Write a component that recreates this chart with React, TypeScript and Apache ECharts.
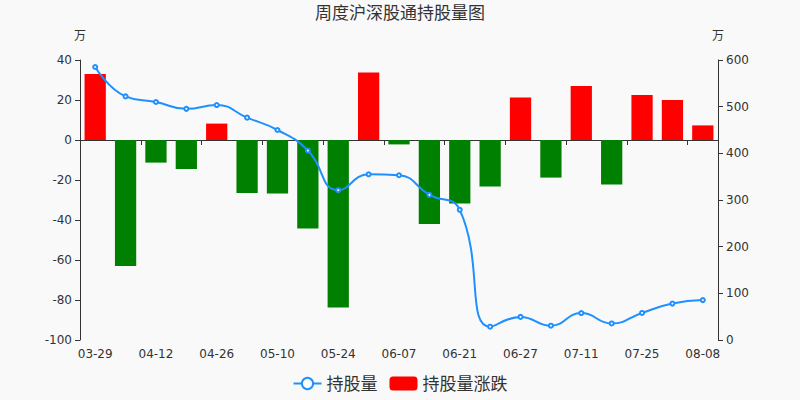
import React, { useEffect, useRef } from "react";
import * as echarts from "echarts";

// weekly dates (every other one shown on the axis)
const dates = [
  "03-29", "04-05", "04-12", "04-19", "04-26", "05-03", "05-10", "05-17",
  "05-24", "05-31", "06-07", "06-14", "06-21", "06-24", "06-27", "07-04",
  "07-11", "07-18", "07-25", "08-01", "08-08",
];

// 持股量 (万), right axis
const holdings = [
  585, 522, 510, 495.3, 503.5, 476.5, 450, 406, 321, 355, 353, 311, 279,
  28.5, 49.5, 30.7, 57.7, 35.5, 58, 78, 85.5,
];

// 持股量涨跌 (万), left axis
const changes = [
  33, -63, -11.3, -14.5, 8.2, -26.5, -26.7, -44.2, -83.8, 33.8, -2.2, -42,
  -31.7, -23.2, 21.3, -18.8, 27, -22.2, 22.5, 20, 7.3,
];

const App = () => {
  const chartRef = useRef<HTMLDivElement>(null);

  useEffect(() => {
    document.body.style.margin = "0";
    if (!chartRef.current) return;
    const chart = echarts.init(chartRef.current, undefined, { renderer: "svg" });

    const font = "DejaVu Sans, Noto Sans CJK SC, sans-serif";

    const option = {
      animation: false,
      backgroundColor: "#f9f9f9",
      textStyle: { fontFamily: font },
      title: {
        text: "周度沪深股通持股量图",
        left: "center",
        top: -1,
        textStyle: { fontSize: 17, fontWeight: "normal", color: "#333", fontFamily: font },
      },
      legend: {
        bottom: 3,
        left: "center",
        itemGap: 12,
        itemWidth: 28,
        textStyle: { fontSize: 17, color: "#333" },
        data: ["持股量", "持股量涨跌"],
      },
      grid: { left: 80, right: 82, top: 60, bottom: 60 },
      xAxis: [
        {
          type: "category",
          data: dates,
          axisLine: { onZero: true, lineStyle: { color: "#333" } },
          axisTick: { show: true, interval: 1, lineStyle: { color: "#333" } },
          axisLabel: { show: false },
        },
        {
          type: "category",
          data: dates,
          position: "bottom",
          axisLine: { show: false, onZero: false },
          axisTick: { show: false },
          axisLabel: { interval: 1, color: "#333", fontSize: 12 },
        },
      ],
      yAxis: [
        {
          type: "value",
          name: "万",
          min: -100,
          max: 40,
          interval: 20,
          nameGap: 18,
          nameTextStyle: { color: "#333", fontSize: 12, align: "center" },
          axisLine: { show: true, lineStyle: { color: "#333" } },
          axisTick: { show: true },
          axisLabel: { color: "#333", fontSize: 12 },
          splitLine: { show: false },
        },
        {
          type: "value",
          name: "万",
          min: 0,
          max: 600,
          interval: 100,
          nameGap: 18,
          nameTextStyle: { color: "#333", fontSize: 12, align: "center" },
          axisLine: { show: true, lineStyle: { color: "#333" } },
          axisTick: { show: true },
          axisLabel: { color: "#333", fontSize: 12 },
          splitLine: { show: false },
        },
      ],
      series: [
        {
          name: "持股量涨跌",
          type: "bar",
          yAxisIndex: 0,
          xAxisIndex: 0,
          barWidth: "70%",
          itemStyle: { color: "#ff0000" },
          data: changes.map((v) => ({
            value: v,
            itemStyle: { color: v >= 0 ? "#ff0000" : "#008000" },
          })),
        },
        {
          name: "持股量",
          type: "line",
          yAxisIndex: 1,
          xAxisIndex: 0,
          smooth: true,
          symbol: "emptyCircle",
          symbolSize: 4,
          itemStyle: { color: "#1e90ff", borderWidth: 1 },
          lineStyle: { color: "#1e90ff", width: 2 },
          data: holdings,
        },
      ],
    };

    chart.setOption(option);
    return () => {
      chart.dispose();
    };
  }, []);

  return <div ref={chartRef} style={{ width: "800px", height: "400px" }}></div>;
};

export default App;
